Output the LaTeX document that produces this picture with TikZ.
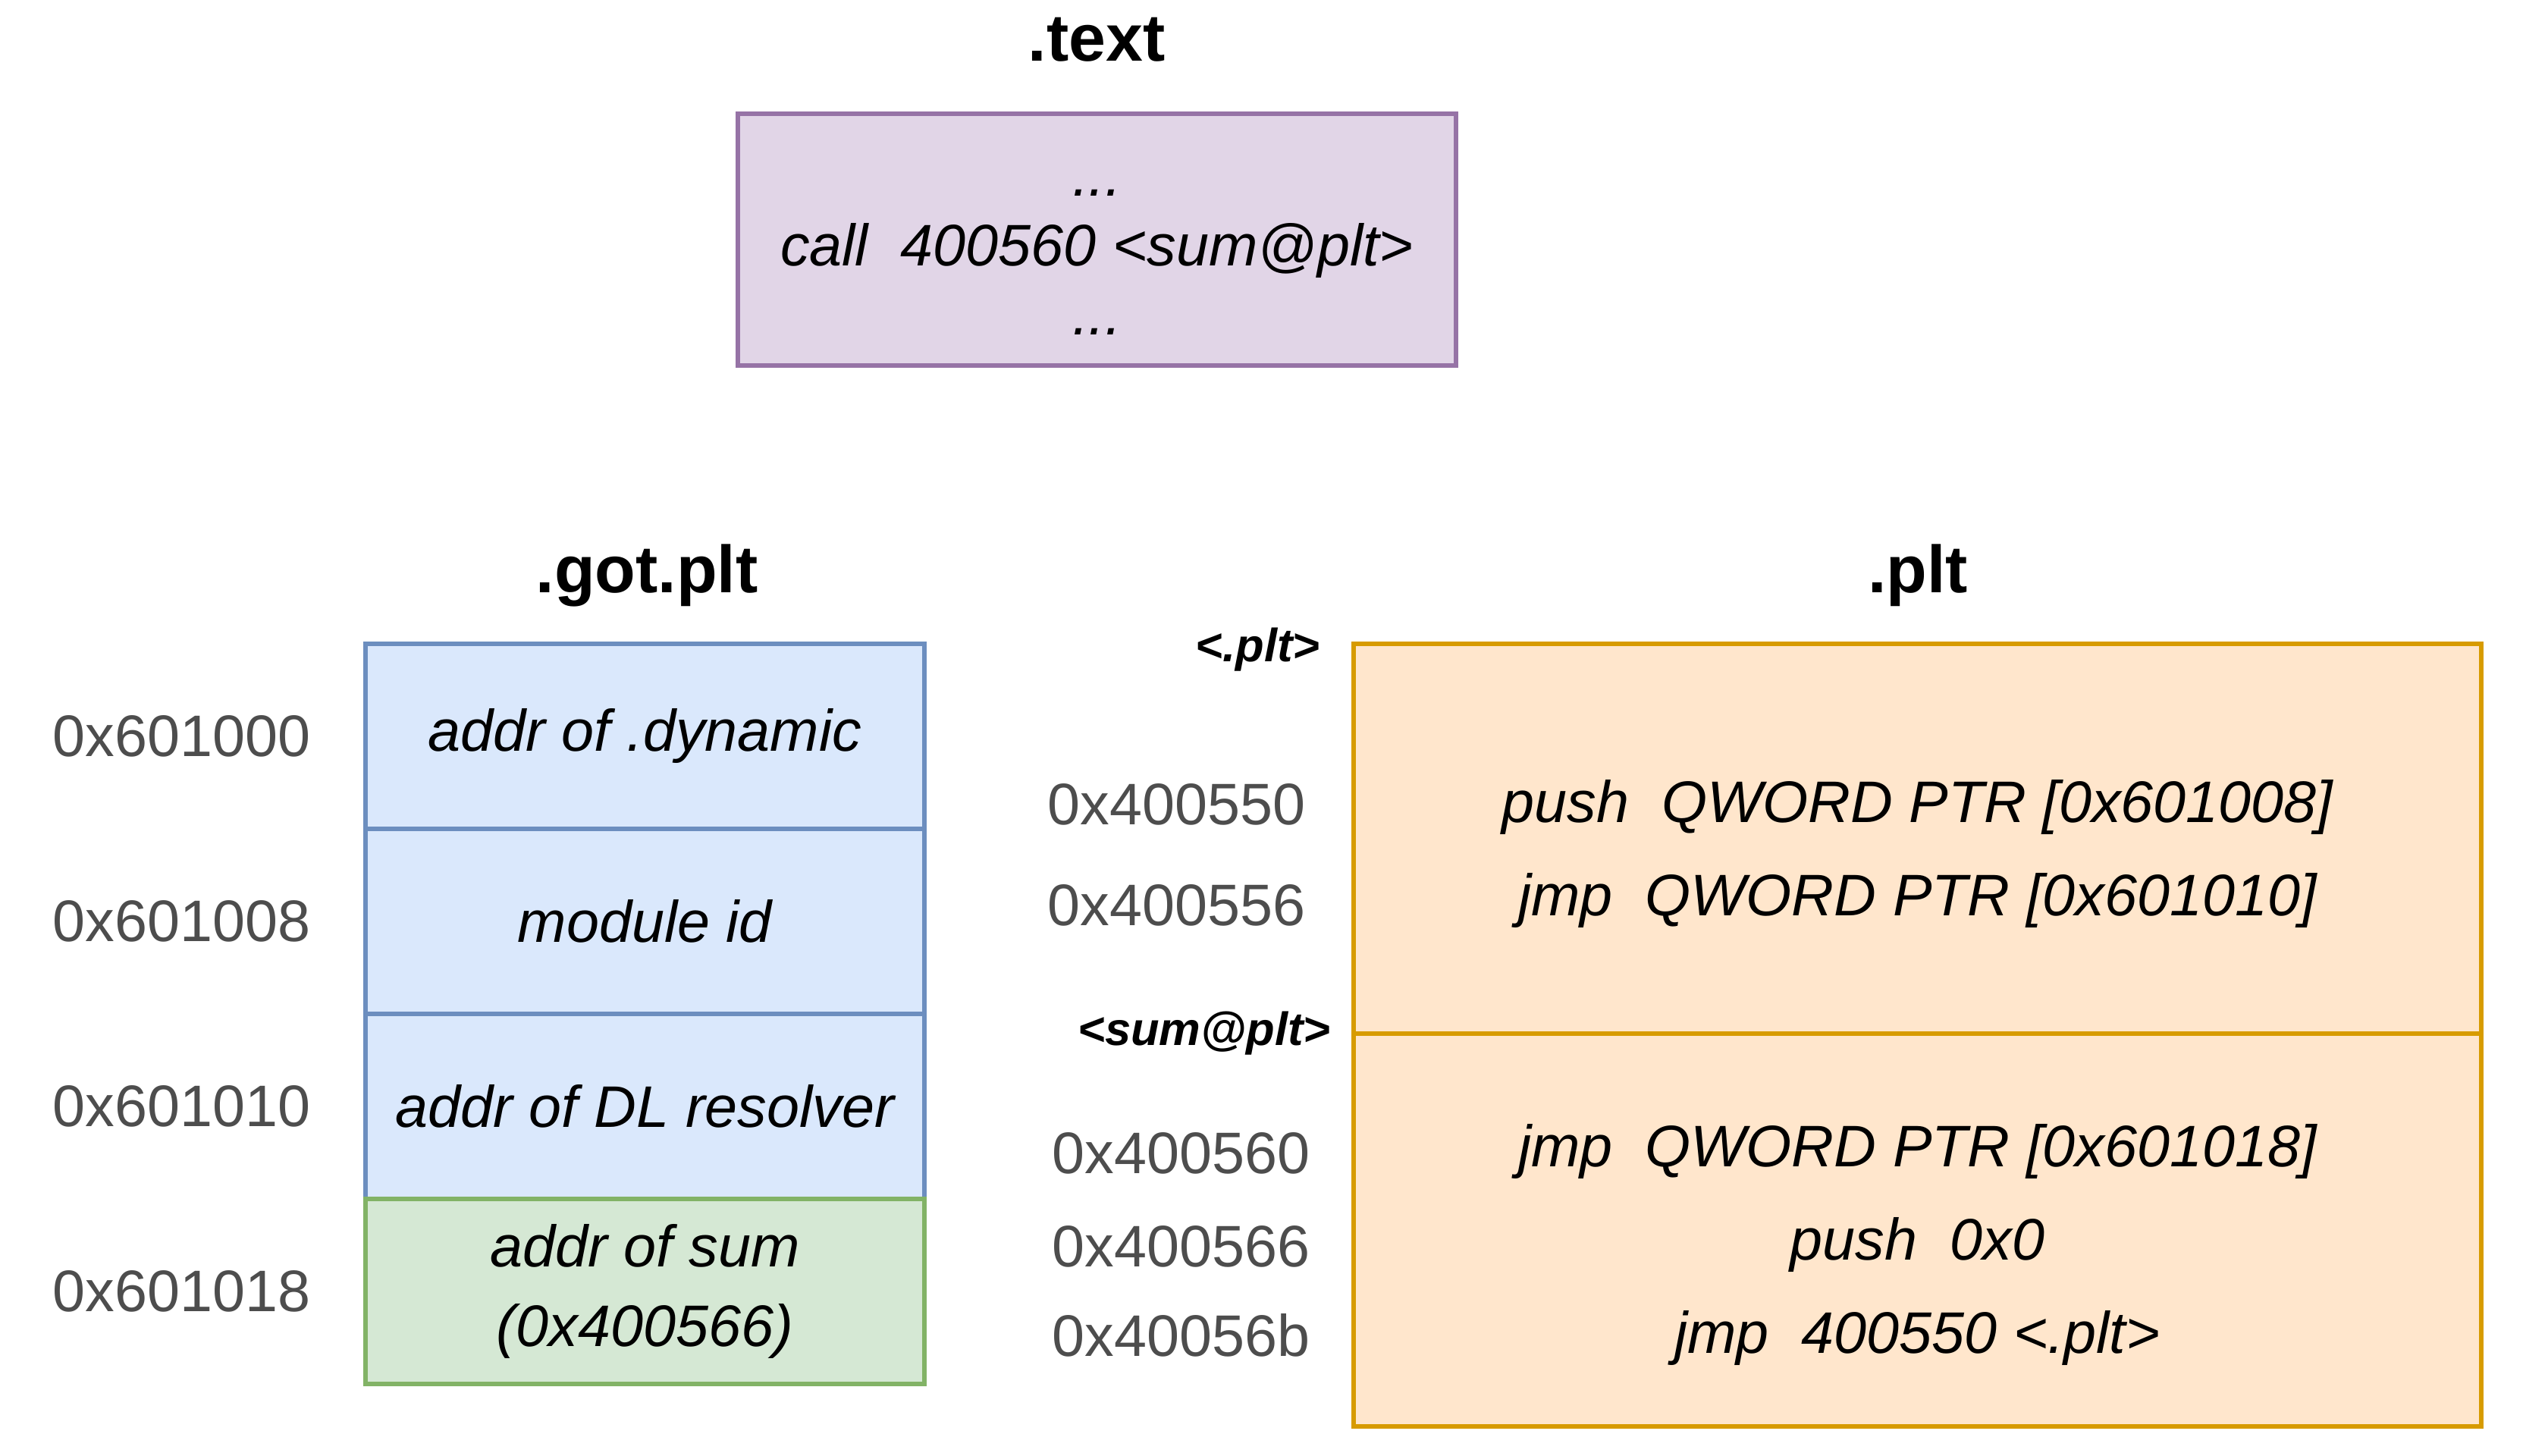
\documentclass[tikz,border=0pt]{standalone}
\usepackage{fontspec}
\setmainfont{Liberation Sans}
\usetikzlibrary{positioning}
\definecolor{textfill}{HTML}{E1D5E7}
\definecolor{textline}{HTML}{9673A6}
\definecolor{gotfill}{HTML}{DAE8FC}
\definecolor{gotline}{HTML}{6C8EBF}
\definecolor{sumfill}{HTML}{D5E8D4}
\definecolor{sumline}{HTML}{82B366}
\definecolor{pltfill}{HTML}{FFE6CC}
\definecolor{pltline}{HTML}{D79B00}
\definecolor{addrgray}{HTML}{4D4D4D}
\begin{document}
\begin{tikzpicture}[
  box/.style={draw, line width=1.5pt, outer sep=0pt, inner sep=0pt, align=center},
  gotcell/.style={box, fill=gotfill, draw=gotline, minimum width=7.37cm, minimum height=2.44cm, font=\fontsize{22}{30}\selectfont\itshape},
  pltcell/.style={box, fill=pltfill, draw=pltline, minimum width=14.87cm},
  code/.style={align=center, font=\fontsize{22}{35}\selectfont\itshape, yshift=-0.2cm},
  title/.style={font=\fontsize{25}{30}\selectfont\bfseries, anchor=base},
  addr/.style={text=addrgray, font=\fontsize{22}{26}\selectfont, anchor=east},
  tag/.style={font=\fontsize{17.5}{20}\selectfont\bfseries\itshape, anchor=east}
]
	% Fix the page size
	\useasboundingbox (0,0) rectangle (33.6,19.2);
	% The .text section
	\node[title] (texttitle) at (14.46,18.39) {.text};
	\node[box, fill=textfill, draw=textline, minimum width=9.47cm, minimum height=3.32cm] (textsec) at (14.465,16.04) {};
	\node[code, font=\fontsize{22}{26}\selectfont\itshape, yshift=-0.1cm] (textcode) at (textsec)
	  {...\\call\ \ 400560 <sum@plt>\\...};
	% The .got.plt section
	\node[title] (gottitle) at (8.53,11.38) {.got.plt};
	\node[gotcell] (got0) at (8.505,9.49) {addr of .dynamic};
	\node[gotcell, below=0pt of got0] (got1) {module id};
	\node[gotcell, below=0pt of got1] (got2) {addr of DL resolver};
	\node[gotcell, fill=sumfill, draw=sumline, below=0pt of got2] (got3) {addr of sum\\(0x400566)};
	% Addresses of the .got.plt entries
	\node[addr, left=0.6cm of got0] (gotaddr0) {0x601000};
	\node[addr, left=0.6cm of got1] (gotaddr1) {0x601008};
	\node[addr, left=0.6cm of got2] (gotaddr2) {0x601010};
	\node[addr, left=0.6cm of got3] (gotaddr3) {0x601018};
	% The .plt section
	\node[title] (plttitle) at (25.29,11.38) {.plt};
	\node[pltcell, minimum height=5.14cm] (plt0) at (25.285,8.14) {};
	\node[pltcell, minimum height=5.18cm, below=0pt of plt0] (plt1) {};
	\node[code] (pltcode0) at (plt0) {push\ \ QWORD PTR [0x601008]\\jmp\ \ QWORD PTR [0x601010]};
	\node[code] (pltcode1) at (plt1) {jmp\ \ QWORD PTR [0x601018]\\push\ \ 0x0\\jmp\ \ 400550 <.plt>};
	% Symbols of the .plt entries
	\node[tag, xshift=-0.32cm, yshift=-0.08cm] (plttag) at (plt0.north west) {<.plt>};
	\node[tag, xshift=-0.18cm] (sumtag) at (plt1.north west) {<sum@plt>};
	% Addresses of the .plt instructions
	\node[addr] (pltaddr0) at (17.34,8.59) {0x400550};
	\node[addr] (pltaddr1) at (17.34,7.26) {0x400556};
	\node[addr] (pltaddr2) at (17.40,3.99) {0x400560};
	\node[addr] (pltaddr3) at (17.40,2.76) {0x400566};
	\node[addr] (pltaddr4) at (17.40,1.59) {0x40056b};
\end{tikzpicture}
\end{document}
